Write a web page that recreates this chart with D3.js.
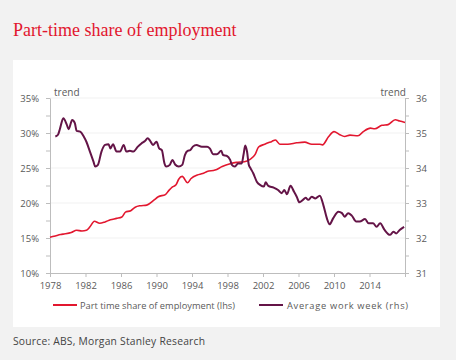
<!DOCTYPE html>
<html><head><meta charset="utf-8">
<script src="https://cdn.jsdelivr.net/npm/d3@7"></script>
<style>html,body{margin:0;padding:0;background:#f2f2f2;}svg{display:block;}</style>
</head><body><svg id="c" width="456" height="360"></svg>
<script>
const title = "Part-time share of employment";
const source = "Source: ABS, Morgan Stanley Research";
const seriesNames = ["Part time share of employment (lhs)", "Average work week (rhs)"];
const xTickYears = [1978, 1982, 1986, 1990, 1994, 1998, 2002, 2006, 2010, 2014];
const leftTicks = [10, 15, 20, 25, 30, 35];
const rightTicks = [31, 32, 33, 34, 35, 36];

const ptYears = [1978.0,1978.6,1979.2,1979.7,1980.4,1981.0,1981.6,1982.1,1982.5,1983.0,1983.6,1984.2,1984.8,1985.5,1986.1,1986.5,1987.1,1987.6,1988.1,1988.9,1989.7,1990.2,1991.0,1991.4,1991.8,1992.2,1992.5,1992.9,1993.5,1993.9,1994.6,1995.2,1995.7,1996.6,1997.4,1998.3,1999.0,1999.9,2000.5,2001.1,2001.5,2002.2,2003.0,2003.4,2003.9,2004.8,2005.8,2006.7,2007.5,2008.4,2008.7,2009.4,2010.0,2010.6,2011.2,2011.8,2012.7,2013.3,2014.1,2014.6,2015.4,2016.1,2016.9,2017.4,2018.0];
const ptShare = [15.1,15.3,15.5,15.6,15.8,16.1,16.0,16.1,16.6,17.4,17.1,17.3,17.6,17.8,18.0,18.7,18.9,19.4,19.6,19.7,20.4,20.9,21.2,21.8,22.3,22.6,23.4,23.8,22.9,23.5,24.0,24.2,24.5,24.7,25.2,25.6,25.8,25.9,26.2,26.9,28.0,28.4,28.8,29.0,28.4,28.4,28.6,28.7,28.4,28.4,28.3,29.5,30.2,29.8,29.5,29.7,29.6,30.2,30.7,30.6,31.1,31.2,31.9,31.7,31.5];

const wwYears = [1978.6,1978.9,1979.1,1979.5,1979.9,1980.1,1980.5,1980.8,1981.0,1981.4,1981.8,1982.1,1982.5,1982.9,1983.1,1983.4,1983.8,1984.2,1984.6,1984.8,1985.1,1985.5,1985.9,1986.3,1986.6,1987.0,1987.4,1987.9,1988.3,1988.7,1989.0,1989.3,1989.6,1990.0,1990.3,1990.6,1990.9,1991.1,1991.5,1991.8,1992.1,1992.5,1992.9,1993.2,1993.5,1993.8,1994.1,1994.5,1995.1,1995.7,1996.0,1996.4,1996.8,1997.3,1997.5,1997.9,1998.3,1998.5,1998.8,1999.2,1999.6,1999.8,2000.0,2000.2,2000.4,2000.6,2000.9,2001.3,2001.7,2002.1,2002.3,2002.6,2003.2,2003.7,2004.1,2004.4,2004.7,2005.1,2005.5,2005.8,2006.1,2006.5,2006.8,2007.1,2007.5,2007.9,2008.4,2008.8,2009.2,2009.5,2009.9,2010.5,2010.9,2011.2,2011.6,2012.0,2012.5,2012.9,2013.5,2013.9,2014.4,2014.8,2015.2,2015.7,2016.3,2016.7,2017.0,2017.4,2017.9];
const wwHours = [34.90,34.95,35.10,35.42,35.23,35.11,35.37,35.28,35.06,35.04,34.90,34.75,34.47,34.18,34.04,34.09,34.47,34.66,34.68,34.56,34.68,34.47,34.47,34.66,34.47,34.49,34.47,34.61,34.70,34.77,34.85,34.77,34.66,34.75,34.56,34.51,34.13,34.04,34.09,34.23,34.10,34.04,34.09,34.37,34.49,34.51,34.61,34.66,34.61,34.61,34.56,34.39,34.39,34.49,34.37,34.35,34.23,34.09,34.04,34.13,34.13,34.37,34.64,34.47,34.09,33.99,33.85,33.61,33.51,33.47,33.59,33.49,33.44,33.37,33.28,33.37,33.25,33.49,33.32,33.18,33.02,33.09,33.15,33.09,33.18,33.13,33.21,32.94,32.56,32.39,32.56,32.75,32.71,32.61,32.71,32.64,32.47,32.47,32.54,32.42,32.42,32.32,32.42,32.23,32.09,32.18,32.13,32.23,32.32];

const RED = "#e2172f", PURPLE = "#641447", TXT = "#5a5a5a", AX = "#bdbdbd";
const FONT = "'Open Sans', Lato, sans-serif";

const svg = d3.select("#c");
svg.append("rect").attr("width", 456).attr("height", 360).attr("fill", "#f2f2f2");
svg.append("rect").attr("x", 13).attr("y", 60).attr("width", 427).attr("height", 267).attr("fill", "#fff");
svg.append("text").attr("x", 13).attr("y", 36).text(title)
  .attr("font-family", "'Liberation Serif', 'DejaVu Serif', serif").attr("font-size", 18).attr("fill", RED);

const L = 50, R = 405, T = 98, B = 273;
const x = d3.scaleLinear().domain([1978, 2018]).range([L, R]);
const yL = d3.scaleLinear().domain([10, 35]).range([B, T]);
const yR = d3.scaleLinear().domain([31, 36]).range([B, T]);

svg.append("g").selectAll("line").data(leftTicks.slice(1)).join("line")
  .attr("x1", L).attr("x2", R).attr("y1", d => yL(d)).attr("y2", d => yL(d))
  .attr("stroke", "#f1f1f1").attr("stroke-width", 1);

function styleAxis(g) {
  g.select(".domain").attr("stroke", AX);
  g.selectAll(".tick line").attr("stroke", AX);
  g.selectAll("text").attr("fill", TXT).attr("font-family", FONT).attr("font-size", 9.5);
}
const minorL = d3.range(10, 35.01, 2.5), minorR = d3.range(31, 36.01, 0.5);

svg.append("g").attr("transform", `translate(${L},0)`)
  .call(d3.axisLeft(yL).tickValues(minorL).tickSize(4).tickSizeOuter(0).tickPadding(7)
    .tickFormat(d => leftTicks.includes(d) ? d + "%" : ""))
  .call(styleAxis);
svg.append("g").attr("transform", `translate(${R},0)`)
  .call(d3.axisRight(yR).tickValues(minorR).tickSize(4).tickSizeOuter(0).tickPadding(7)
    .tickFormat(d => rightTicks.includes(d) ? d : ""))
  .call(styleAxis);
svg.append("g").attr("transform", `translate(0,${B})`)
  .call(d3.axisBottom(x).tickValues(xTickYears.concat([2018])).tickSize(4).tickSizeOuter(0).tickPadding(5)
    .tickFormat(d => xTickYears.includes(d) ? d : ""))
  .call(styleAxis);

svg.append("text").attr("x", 54).attr("y", 96).text("trend")
  .attr("font-family", FONT).attr("font-size", 10).attr("fill", TXT);
svg.append("text").attr("x", 406).attr("y", 96).attr("text-anchor", "end").text("trend")
  .attr("font-family", FONT).attr("font-size", 10).attr("fill", TXT);

const lineL = d3.line().x(d => x(d[0])).y(d => yL(d[1])).curve(d3.curveMonotoneX);
const lineR = d3.line().x(d => x(d[0])).y(d => yR(d[1])).curve(d3.curveMonotoneX);
svg.append("path").datum(ptYears.map((y, i) => [y, ptShare[i]])).attr("d", lineL)
  .attr("fill", "none").attr("stroke", RED).attr("stroke-width", 1.6).attr("stroke-linejoin", "round");
svg.append("path").datum(wwYears.map((y, i) => [y, wwHours[i]])).attr("d", lineR)
  .attr("fill", "none").attr("stroke", PURPLE).attr("stroke-width", 2).attr("stroke-linejoin", "round");

const lg = svg.append("g").attr("font-family", FONT).attr("font-size", 9.3).attr("fill", TXT);
lg.append("line").attr("x1", 53).attr("x2", 77).attr("y1", 305).attr("y2", 305).attr("stroke", RED).attr("stroke-width", 2);
lg.append("text").attr("x", 80).attr("y", 308.5).attr("textLength", 155).attr("lengthAdjust", "spacingAndGlyphs").text(seriesNames[0]);
lg.append("line").attr("x1", 259).attr("x2", 283).attr("y1", 305).attr("y2", 305).attr("stroke", PURPLE).attr("stroke-width", 2);
lg.append("text").attr("x", 287).attr("y", 308.5).attr("textLength", 121).attr("lengthAdjust", "spacing").text(seriesNames[1]);

svg.append("text").attr("x", 13).attr("y", 345).attr("textLength", 192).attr("lengthAdjust", "spacing").text(source)
  .attr("font-family", FONT).attr("font-size", 10.3).attr("fill", "#444");
</script></body></html>
